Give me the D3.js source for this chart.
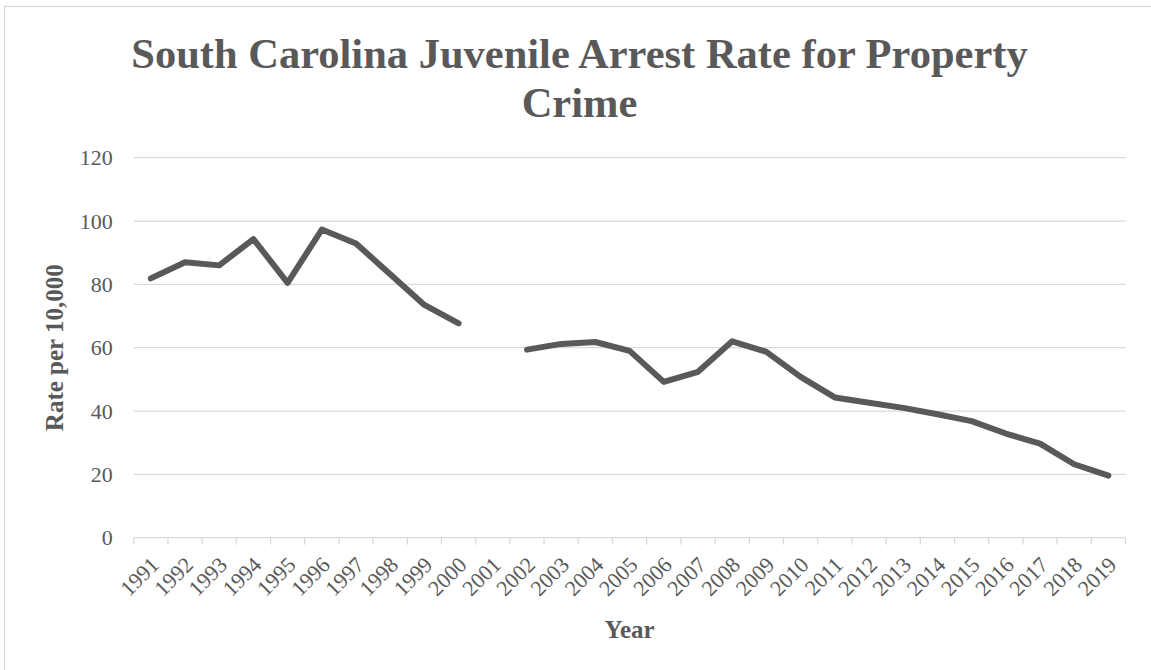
<!DOCTYPE html>
<html>
<head>
<meta charset="utf-8">
<script src="https://cdn.jsdelivr.net/npm/d3@7"></script>
<style>
  html, body { margin: 0; padding: 0; background: #fff; }
  svg { display: block; }
  text { font-family: "Liberation Serif", "Times New Roman", serif; fill: #595959; }
</style>
</head>
<body>
<svg id="chart" width="1151" height="670"></svg>
<script>
const years = ["1991","1992","1993","1994","1995","1996","1997","1998","1999","2000",
  "2001","2002","2003","2004","2005","2006","2007","2008","2009","2010",
  "2011","2012","2013","2014","2015","2016","2017","2018","2019"];
const rates = [81.9, 87.0, 86.0, 94.3, 80.5, 97.3, 92.9, 83.2, 73.5, 67.7,
  null, 59.4, 61.2, 61.8, 59.0, 49.2, 52.4, 62.0, 58.7, 50.8,
  44.3, 42.6, 41.0, 39.0, 36.8, 32.9, 29.7, 23.2, 19.6];
const yTicks = [0, 20, 40, 60, 80, 100, 120];
const titleLines = ["South Carolina Juvenile Arrest Rate for Property", "Crime"];
const xTitle = "Year";
const yTitle = "Rate per 10,000";

const svg = d3.select("#chart");
const ink = "#595959";
const gridCol = "#d9d9d9";

const pLeft = 133.7, pRight = 1125.5, pTop = 157.7, pBottom = 537.7;

// chart border
svg.append("rect").attr("x", 4.5).attr("y", 6.5).attr("width", 1200).attr("height", 700)
  .attr("fill", "none").attr("stroke", gridCol).attr("stroke-width", 1.3);

const x = d3.scaleBand().domain(years).range([pLeft, pRight]).padding(0);
const y = d3.scaleLinear().domain([0, 120]).range([pBottom, pTop]);

// gridlines
svg.append("g").selectAll("line").data(yTicks.filter(t => t !== 0)).join("line")
  .attr("x1", pLeft).attr("x2", pRight)
  .attr("y1", d => y(d)).attr("y2", d => y(d))
  .attr("stroke", gridCol).attr("stroke-width", 1.3);

// y axis labels
const yAxis = d3.axisLeft(y).tickValues(yTicks).tickSize(0).tickPadding(21);
const gy = svg.append("g").attr("transform", `translate(${pLeft},0)`).call(yAxis);
gy.select(".domain").remove();
gy.selectAll("text").style("font-size", "22px").attr("fill", ink)
  .style("font-family", '"Liberation Serif", serif');

// x axis
const bounds = years.map(d => x(d)).concat([pRight]);
const gx = svg.append("g");
gx.append("line").attr("x1", pLeft).attr("x2", pRight).attr("y1", pBottom).attr("y2", pBottom)
  .attr("stroke", gridCol).attr("stroke-width", 1.3);
gx.selectAll("line.tk").data(bounds).join("line").attr("class", "tk")
  .attr("x1", d => d).attr("x2", d => d).attr("y1", pBottom).attr("y2", pBottom + 7)
  .attr("stroke", gridCol).attr("stroke-width", 1.3);
gx.selectAll("text").data(years).join("text")
  .attr("transform", d => `translate(${x(d) + x.bandwidth() / 2 + 4},${pBottom + 23}) rotate(-45)`)
  .attr("text-anchor", "end").attr("dy", "0.35em")
  .style("font-size", "22px")
  .text(d => d);

// line
const line = d3.line()
  .defined(d => d.v !== null)
  .x(d => x(d.year) + x.bandwidth() / 2)
  .y(d => y(d.v));
svg.append("path")
  .datum(years.map((yr, i) => ({ year: yr, v: rates[i] })))
  .attr("d", line)
  .attr("fill", "none").attr("stroke", ink).attr("stroke-width", 6)
  .attr("stroke-linejoin", "round").attr("stroke-linecap", "round");

// title
svg.append("g").selectAll("text").data(titleLines).join("text")
  .attr("x", 579.5).attr("y", (d, i) => 68 + i * 49)
  .attr("text-anchor", "middle")
  .style("font-size", "42.5px").style("font-weight", "bold")
  .text(d => d);

// axis titles
svg.append("text").attr("x", (pLeft + pRight) / 2).attr("y", 638)
  .attr("text-anchor", "middle").style("font-size", "25px").style("font-weight", "bold")
  .text(xTitle);
svg.append("text").attr("transform", `translate(63,${(pTop + pBottom) / 2}) rotate(-90)`)
  .attr("text-anchor", "middle").style("font-size", "25px").style("font-weight", "bold")
  .text(yTitle);
</script>
</body>
</html>
